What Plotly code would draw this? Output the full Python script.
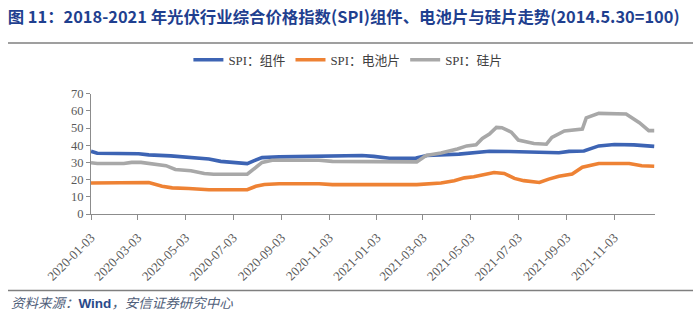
import plotly.graph_objects as go

# ---- data ----
blue_dates = ["2020-01-03","2020-01-11","2020-03-04","2020-03-17","2020-04-14","2020-05-01","2020-05-20",
              "2020-06-02","2020-06-17","2020-07-04","2020-07-21","2020-07-30","2020-08-09","2020-08-31",
              "2020-10-21","2020-11-07","2020-12-15","2020-12-30","2021-01-19","2021-02-22","2021-03-08",
              "2021-04-18","2021-05-07","2021-05-27","2021-06-21","2021-07-17","2021-07-30","2021-08-24",
              "2021-09-06","2021-09-25","2021-10-14","2021-11-03","2021-11-28","2021-12-24"]
blue_vals = [36.5,35.3,35.0,34.4,33.8,33.2,32.4,32.0,30.6,30.0,29.3,31.0,32.8,33.2,33.5,34.1,34.0,33.5,
             32.4,32.5,34.0,34.8,35.4,36.5,36.3,35.9,35.5,35.6,36.4,36.6,39.6,40.4,40.2,39.3]

gray_dates = ["2020-01-03","2020-01-11","2020-02-14","2020-02-24","2020-03-07","2020-03-28","2020-04-08",
              "2020-04-20","2020-05-10","2020-05-27","2020-06-08","2020-07-21","2020-08-01","2020-08-09",
              "2020-08-22","2020-10-21","2020-11-07","2020-12-15","2020-12-30","2021-01-19","2021-02-23",
              "2021-03-07","2021-03-26","2021-04-16","2021-04-28","2021-05-10","2021-05-18","2021-05-27",
              "2021-06-05","2021-06-12","2021-06-24","2021-07-03","2021-07-23","2021-08-08","2021-08-15",
              "2021-08-31","2021-09-23","2021-09-28","2021-10-14","2021-11-18","2021-12-05","2021-12-17",
              "2021-12-24"]
gray_vals = [29.8,29.4,29.4,30.0,30.0,28.7,28.1,25.9,25.2,23.5,23.1,23.1,27.0,30.0,31.3,31.3,30.6,30.5,
             30.6,30.1,30.3,34.0,35.5,37.8,39.6,40.2,43.9,46.5,50.4,50.2,47.6,43.0,41.0,40.6,44.5,48.3,
             49.4,55.9,58.5,58.2,53.1,48.5,48.5]

orange_dates = ["2020-01-03","2020-02-24","2020-03-17","2020-04-03","2020-04-16","2020-05-07","2020-06-02",
                "2020-07-21","2020-08-01","2020-08-12","2020-08-31","2020-10-21","2020-11-07","2021-02-23",
                "2021-03-26","2021-04-12","2021-04-25","2021-05-07","2021-05-20","2021-06-02","2021-06-15",
                "2021-06-28","2021-07-10","2021-07-30","2021-08-11","2021-08-24","2021-09-10","2021-09-23",
                "2021-10-14","2021-11-22","2021-12-08","2021-12-17","2021-12-24"]
orange_vals = [18.0,18.3,18.3,16.1,15.2,14.8,14.1,14.1,16.1,17.2,17.6,17.6,17.1,17.1,18.0,19.3,21.0,21.7,
               23.0,24.1,23.6,20.7,19.4,18.3,20.3,22.0,23.3,27.2,29.4,29.4,28.1,27.8,27.8]

series_names = ["SPI：组件", "SPI：电池片", "SPI：硅片"]
tick_dates = ["2020-01-03","2020-03-03","2020-05-03","2020-07-03","2020-09-03","2020-11-03",
              "2021-01-03","2021-03-03","2021-05-03","2021-07-03","2021-09-03","2021-11-03"]

title_text = "图 11：2018-2021 年光伏行业综合价格指数(SPI)组件、电池片与硅片走势(2014.5.30=100)"
source_text = ("资料来源：<span style='color:#2a4a8a;font-family:Liberation Sans;font-style:normal'>"
               "<b>Wind</b></span>，安信证券研究中心")

# ---- figure ----
W, H = 700, 326
L, R, T, B = 91, 45, 88, 112
pw, ph = W - L - R, H - T - B

def px_x(x):
    return (x - L) / pw

def px_y(y):
    return (H - B - y) / ph

fig = go.Figure()
fig.add_trace(go.Scatter(x=blue_dates, y=blue_vals, name=series_names[0], mode="lines",
                         line=dict(color="#3d64b4", width=3.6)))
fig.add_trace(go.Scatter(x=orange_dates, y=orange_vals, name=series_names[1], mode="lines",
                         line=dict(color="#ee8234", width=3.6)))
fig.add_trace(go.Scatter(x=gray_dates, y=gray_vals, name=series_names[2], mode="lines",
                         line=dict(color="#a8a8a8", width=3.6)))

yfont = dict(family="Liberation Serif, DejaVu Serif, serif", size=12.5, color="#595959")
xfont = dict(family="Liberation Serif, DejaVu Serif, serif", size=13, color="#595959")

fig.update_layout(
    width=W, height=H,
    margin=dict(l=L, r=R, t=T, b=B),
    paper_bgcolor="white", plot_bgcolor="white",
    title=dict(text=title_text, xref="container", yref="container", x=0.011, y=1 - 17 / H,
               xanchor="left", yanchor="middle",
               font=dict(family="Noto Sans CJK SC", size=16.4, color="#1f3f8f", weight="bold")),
    legend=dict(orientation="h", xref="container", yref="container", x=0.497, y=1 - 60 / H,
                xanchor="center", yanchor="middle",
                font=dict(family="Liberation Serif, Noto Sans CJK SC", size=12.8, color="#404040"),
                tracegroupgap=0),
    xaxis=dict(type="date", range=["2020-01-03", "2021-12-25"],
               tickvals=tick_dates, ticktext=tick_dates, tickangle=-45,
               showgrid=False, zeroline=False, showline=True, linecolor="#8c8c8c", linewidth=1,
               ticks="outside", ticklen=5, tickcolor="#8c8c8c", tickfont=xfont,
               ticklabelstandoff=5),
    yaxis=dict(range=[0, 70], dtick=10, showgrid=False, zeroline=False,
               showline=True, linecolor="#8c8c8c", linewidth=1,
               ticks="outside", ticklen=4, tickcolor="#8c8c8c", tickfont=yfont),
    shapes=[
        dict(type="line", xref="paper", yref="paper", x0=px_x(8), x1=px_x(693),
             y0=px_y(35), y1=px_y(35), line=dict(color="#7f7f7f", width=1.5)),
        dict(type="line", xref="paper", yref="paper", x0=px_x(8), x1=px_x(693),
             y0=px_y(294), y1=px_y(294), line=dict(color="#7f7f7f", width=1.5)),
    ],
    annotations=[
        dict(text=source_text, xref="paper", yref="paper", x=px_x(9), y=px_y(306),
             xanchor="left", yanchor="middle", showarrow=False,
             font=dict(family="Noto Sans CJK SC", size=13.5, color="#50607a", style="italic")),
    ],
)

fig.write_html("out.html")
